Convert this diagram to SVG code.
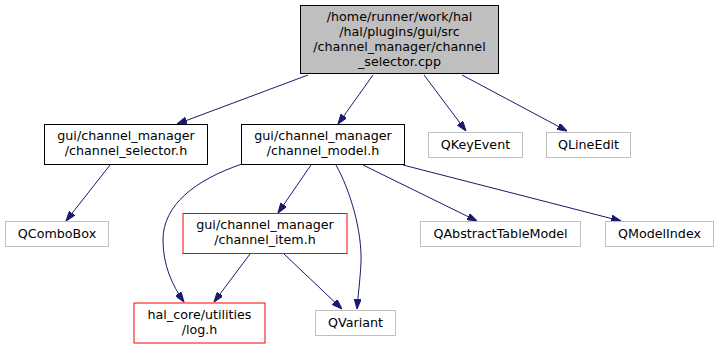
<svg xmlns="http://www.w3.org/2000/svg" width="719" height="349" viewBox="0 0 719 349">
  <style>
    text { font-family: "DejaVu Sans", "Liberation Sans", sans-serif; font-size: 12.7px; fill: #000; text-anchor: middle; }
    .main rect { fill: #bfbfbf; stroke: #000; stroke-width: 1; }
    .local rect { fill: #fff; stroke: #000; stroke-width: 1; }
    .trunc rect { fill: #fff; stroke: #ff0000; stroke-width: 1; }
    .ext rect { fill: #fff; stroke: #bfbfbf; stroke-width: 1; }
    .edges path { fill: none; stroke: #191970; stroke-width: 1; marker-end: url(#arrow); }
  </style>
  <defs>
    <marker id="arrow" markerUnits="userSpaceOnUse" markerWidth="10" markerHeight="7" refX="10" refY="3.5" orient="auto">
      <path d="M0,0 L10,3.5 L0,7 z" fill="#191970" stroke="#191970" stroke-width="1"/>
    </marker>
  </defs>
  <rect width="719" height="349" fill="#fff"/>

  <g class="edges" id="edges">
    <path d="M308,75 L177,124"/>
    <path d="M373,75 L338,124"/>
    <path d="M424,75 L466,131"/>
    <path d="M462,75 L567,131"/>
    <path d="M110,165 L66,221"/>
    <path d="M311,165 L278,213"/>
    <path d="M242,164 C195,180 163,205 163,240 C163,265 172,285 184,302"/>
    <path d="M336,165 C350,190 362,230 361,262 C360,282 358,295 357,309"/>
    <path d="M363,165 L477,221"/>
    <path d="M403,165 L621,221"/>
    <path d="M250,254 L214,302"/>
    <path d="M284,254 L342,309"/>
  </g>

  <g id="node_root" class="main">
    <rect x="300.5" y="5.5" width="198" height="68"/>
    <text x="399.5" y="21">/home/runner/work/hal</text>
    <text x="399.5" y="36">/hal/plugins/gui/src</text>
    <text x="399.5" y="51">/channel_manager/channel</text>
    <text x="399.5" y="66">_selector.cpp</text>
  </g>
  <g id="node_selector" class="local">
    <rect x="44.5" y="124.5" width="163" height="40"/>
    <text x="126" y="140">gui/channel_manager</text>
    <text x="126" y="155">/channel_selector.h</text>
  </g>
  <g id="node_model" class="local">
    <rect x="241.5" y="124.5" width="163" height="40"/>
    <text x="323" y="140">gui/channel_manager</text>
    <text x="323" y="155">/channel_model.h</text>
  </g>
  <g id="node_qkeyevent" class="ext">
    <rect x="428.5" y="132.5" width="94" height="25"/>
    <text x="475.5" y="149">QKeyEvent</text>
  </g>
  <g id="node_qlineedit" class="ext">
    <rect x="546.5" y="132.5" width="84" height="25"/>
    <text x="588.5" y="149">QLineEdit</text>
  </g>
  <g id="node_qcombobox" class="ext">
    <rect x="5.5" y="221.5" width="103" height="25"/>
    <text x="57" y="238">QComboBox</text>
  </g>
  <g id="node_item" class="trunc">
    <rect x="183" y="213.5" width="164" height="40"/>
    <text x="265" y="229">gui/channel_manager</text>
    <text x="265" y="244">/channel_item.h</text>
  </g>
  <g id="node_log" class="trunc">
    <rect x="134" y="303" width="131" height="40"/>
    <text x="199.5" y="319">hal_core/utilities</text>
    <text x="199.5" y="334">/log.h</text>
  </g>
  <g id="node_qvariant" class="ext">
    <rect x="315.5" y="310.5" width="80" height="25"/>
    <text x="355.5" y="327">QVariant</text>
  </g>
  <g id="node_qabstracttablemodel" class="ext">
    <rect x="420.5" y="221.5" width="160" height="25"/>
    <text x="500.5" y="238">QAbstractTableModel</text>
  </g>
  <g id="node_qmodelindex" class="ext">
    <rect x="605.5" y="221.5" width="108" height="25"/>
    <text x="659.5" y="238">QModelIndex</text>
  </g>
</svg>
